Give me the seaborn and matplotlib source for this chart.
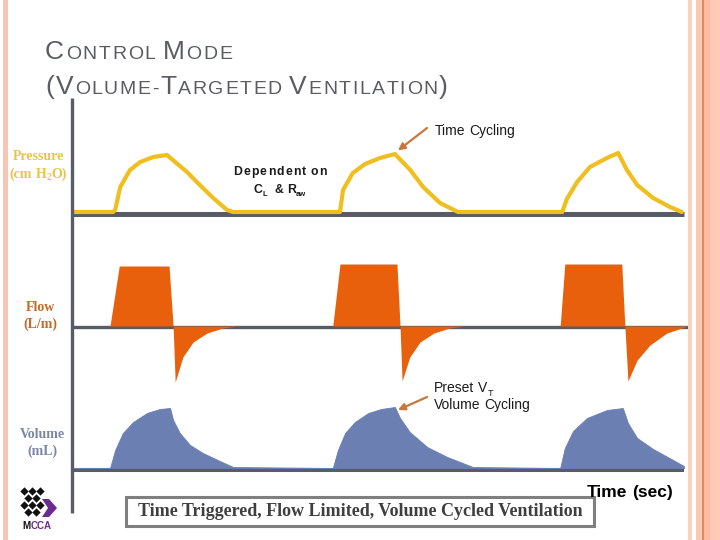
import re
import matplotlib
matplotlib.use("Agg")
import matplotlib.pyplot as plt
from matplotlib.lines import Line2D
from matplotlib.patches import Rectangle, Polygon
import seaborn as sns

W, H = 720, 540

# Presion (cm H2O) frente a tiempo (s)
t_pressure = [0.02, 0.80, 0.84, 0.94, 1.13, 1.33, 1.58, 1.85, 2.24, 2.49, 2.75, 3.02, 3.14,
              5.22, 5.28, 5.47, 5.71, 6.00, 6.29, 6.59, 6.84, 7.17, 7.52,
              9.55, 9.64, 9.84, 10.09, 10.42, 10.64, 10.81, 11.01, 11.32, 11.65, 11.88]
pressure = [0, 0, 0.8, 10.0, 16.8, 20.0, 22.0, 22.8, 16.0, 10.8, 5.6, 0.8, 0,
            0, 8.8, 15.6, 19.2, 21.6, 23.2, 16.8, 10.0, 3.6, 0,
            0, 5.2, 12.0, 18.0, 21.6, 23.6, 16.8, 10.8, 5.6, 2.0, 0]

# Flujo (L/m)
t_flow = [0.06, 0.74, 0.92, 1.89, 1.97, 2.01, 2.16, 2.36, 2.63, 2.94, 3.21,
          5.08, 5.22, 6.33, 6.39, 6.43, 6.58, 6.78, 7.05, 7.36, 7.64,
          9.51, 9.60, 10.71, 10.77, 10.83, 11.01, 11.26, 11.59, 12.0]
flow = [0, 0, 60, 60, 0, -56, -31, -16, -7, -2, 0,
        0, 62, 62, 0, -55, -31, -16, -7, -2, 0,
        0, 62, 62, 0, -55, -34, -19, -7, 0]

# Volumen (mL)
t_volume = [0.02, 0.74, 0.84, 0.99, 1.19, 1.46, 1.71, 1.91, 1.97, 2.10, 2.30, 2.55, 2.88, 3.14,
            5.08, 5.18, 5.32, 5.51, 5.77, 6.02, 6.29, 6.39, 6.58, 6.92, 7.31, 7.81,
            9.51, 9.60, 9.76, 10.03, 10.42, 10.73, 10.83, 11.01, 11.32, 11.71, 11.92]
volume = [0, 0, 180, 350, 460, 550, 590, 600, 480, 350, 230, 150, 70, 10,
          0, 180, 350, 460, 550, 590, 610, 500, 360, 210, 110, 10,
          0, 200, 370, 500, 580, 600, 450, 300, 190, 80, 20]

GRAY = "#575c66"
YELLOW = "#f0be1e"
ORANGE = "#e8600c"
BLUE = "#6b7fb3"
ARROW = "#c8783c"

sns.set_theme(style="white")
fig = plt.figure(figsize=(7.2, 5.4), dpi=100)
fig.patch.set_facecolor("white")
renderer = fig.canvas.get_renderer()


def px_axes(x0, y0, x1, y1):
    ax = fig.add_axes([x0 / W, 1 - y1 / H, (x1 - x0) / W, (y1 - y0) / H])
    ax.set_facecolor("none")
    ax.set_axis_off()
    return ax


def rich_text(x, y, runs, ha="left", spacing=0.0, **kw):
    """runs: (texto, tamano, dy_px). x, y en pixeles desde arriba; y = linea base."""
    arts = []
    cx = x
    for s, size, dy in runs:
        pieces = list(s) if spacing else re.split(r"( )", s)
        for ch in pieces:
            if ch == "":
                continue
            if ch == " ":
                cx += 0.3 * size * 100 / 72
                continue
            t = fig.text(cx / W, 1 - (y + dy) / H, ch, fontsize=size,
                         va="baseline", ha="left", **kw)
            cx += t.get_window_extent(renderer).width + spacing
            arts.append(t)
    width = cx - spacing - x
    shift = {"left": 0, "center": width / 2, "right": width}[ha]
    for t in arts:
        px, py = t.get_position()
        t.set_position((px - shift / W, py))
    return arts


# Franjas decorativas
for x0, x1, c in [(2.5, 7.5, "#f6c6b2"), (688, 692, "#f8d3c3"), (696, 702, "#f9c7b2"),
                  (702, 703.5, "#d98a60"), (703.5, 710, "#fcbca0"), (710, 720, "#ffcab8")]:
    fig.patches.append(Rectangle((x0 / W, 0), (x1 - x0) / W, 1, transform=fig.transFigure,
                                 color=c, lw=0, zorder=0))

# Titulo en versalitas
title_kw = dict(family="Liberation Sans", color="#595d63")
rich_text(45, 59, [("C", 19, 0), ("ONTROL", 14, 0), (" ", 14, 0), ("M", 19, 0), ("ODE", 14, 0)],
          spacing=1.7, **title_kw)
rich_text(45, 94, [("(V", 19, 0), ("OLUME-", 14, 0), ("T", 19, 0), ("ARGETED", 14, 0), (" ", 14, 0),
                   ("V", 19, 0), ("ENTILATION", 14, 0), (")", 19, 0)],
          spacing=1.6, **title_kw)

# Eje vertical comun
fig.add_artist(Line2D([72 / W, 72 / W], [1 - 98 / H, 1 - 513 / H], transform=fig.transFigure,
                      color=GRAY, lw=2.4, solid_capstyle="butt"))

# Presion
ax_p = px_axes(72, 100, 688, 220)
ax_p.set_xlim(0, 12)
ax_p.set_ylim(-3.2, 44.8)
ax_p.hlines(-0.6, 0, 11.92, color=GRAY, lw=3.6, zorder=1)
sns.lineplot(x=t_pressure, y=pressure, ax=ax_p, color=YELLOW, lw=3.0, zorder=2)
ax_p.set_axis_off()

# Flujo
ax_f = px_axes(72, 250, 688, 400)
ax_f.set_xlim(0, 12)
ax_f.set_ylim(-74, 76)
ax_f.hlines(-1.2, 0, 12.0, color=GRAY, lw=2.4, zorder=1)
ax_f.fill_between(t_flow, 0, flow, color=ORANGE, lw=0, zorder=2)

# Volumen
ax_v = px_axes(72, 395, 688, 480)
ax_v.set_xlim(0, 12)
ax_v.set_ylim(-120, 730)
ax_v.hlines(-17, 0, 11.92, color=GRAY, lw=2.9, zorder=1)
ax_v.fill_between(t_volume, 0, volume, color=BLUE, lw=0.6, edgecolor=BLUE, zorder=2)

# Flechas de anotacion
arrow_kw = dict(arrowstyle="-|>", color=ARROW, lw=1.6, mutation_scale=10, shrinkA=0, shrinkB=0)
ax_p.annotate("", xy=(6.35, 24.6), xycoords="data", xytext=(427, H - 128),
              textcoords="figure pixels", arrowprops=arrow_kw)
ax_v.annotate("", xy=(6.35, 580), xycoords="data", xytext=(427, H - 397),
              textcoords="figure pixels", arrowprops=arrow_kw)

# Etiquetas de las curvas
serif = dict(family="Liberation Serif", weight="bold")
rich_text(38, 160, [("Pressure", 10, 0)], ha="center", color="#e8c44c", **serif)
rich_text(38, 178, [("(cm H", 10, 0), ("2", 7, 2.5), ("O)", 10, 0)], ha="center", color="#e8c44c", **serif)
rich_text(40, 311, [("Flow", 10, 0)], ha="center", color="#c46a28", **serif)
rich_text(40, 328, [("(L/m)", 10, 0)], ha="center", color="#c46a28", **serif)
rich_text(42, 438, [("Volume", 10, 0)], ha="center", color="#7d86a3", **serif)
rich_text(42, 455, [("(mL)", 10, 0)], ha="center", color="#7d86a3", **serif)

sans = dict(family="Liberation Sans", color="#1a1a1a")
rich_text(280, 175, [("Dependent on", 8.8, 0)], ha="center", spacing=1.2, weight="bold", **sans)
rich_text(280, 193, [("C", 8.8, 0), ("L", 5.5, 2.5), ("  & R", 8.8, 0), ("aw", 5.5, 2.5)],
          ha="center", weight="bold", **sans)
rich_text(435, 135, [("Time Cycling", 10, 0)], **sans)
rich_text(434, 392, [("Preset V", 10, 0), ("T", 6.5, 3.5)], **sans)
rich_text(434, 409, [("Volume Cycling", 10, 0)], **sans)
rich_text(673, 497, [("Time (sec)", 12.5, 0)], ha="right", weight="bold", family="Liberation Sans",
          color="black")

# Recuadro inferior
fig.patches.append(Rectangle((126 / W, 1 - 526 / H), 468 / W, 29 / H, transform=fig.transFigure,
                             fc="white", ec="#7f7f7f", lw=2.2, zorder=3))
fig.text(360 / W, 1 - 511.5 / H, "Time Triggered, Flow Limited, Volume Cycled Ventilation",
         ha="center", va="center", fontsize=13, color="#3f3f3f", zorder=4, **serif)

# Logotipo MCCA
ax_l = px_axes(14, 484, 62, 534)
ax_l.set_xlim(14, 62)
ax_l.set_ylim(534, 484)
for i, yy in enumerate([491, 498, 505, 512]):
    xs = [24, 32, 40] if i % 2 == 0 else [28, 36]
    ax_l.scatter(xs, [yy] * len(xs), marker="D", s=18, color="#111111", lw=0)
ax_l.add_patch(Polygon([(42, 499), (49, 499), (57, 508), (49, 517), (42, 517), (48, 508)],
                       closed=True, color="#6a2c91", lw=0))
rich_text(22, 529, [("M", 7, 0)], weight="bold", family="Liberation Sans", color="#111111")
rich_text(31, 529, [("CCA", 7, 0)], weight="bold", family="Liberation Sans", color="#6a2c91")

fig.savefig("out.png", dpi=100)
